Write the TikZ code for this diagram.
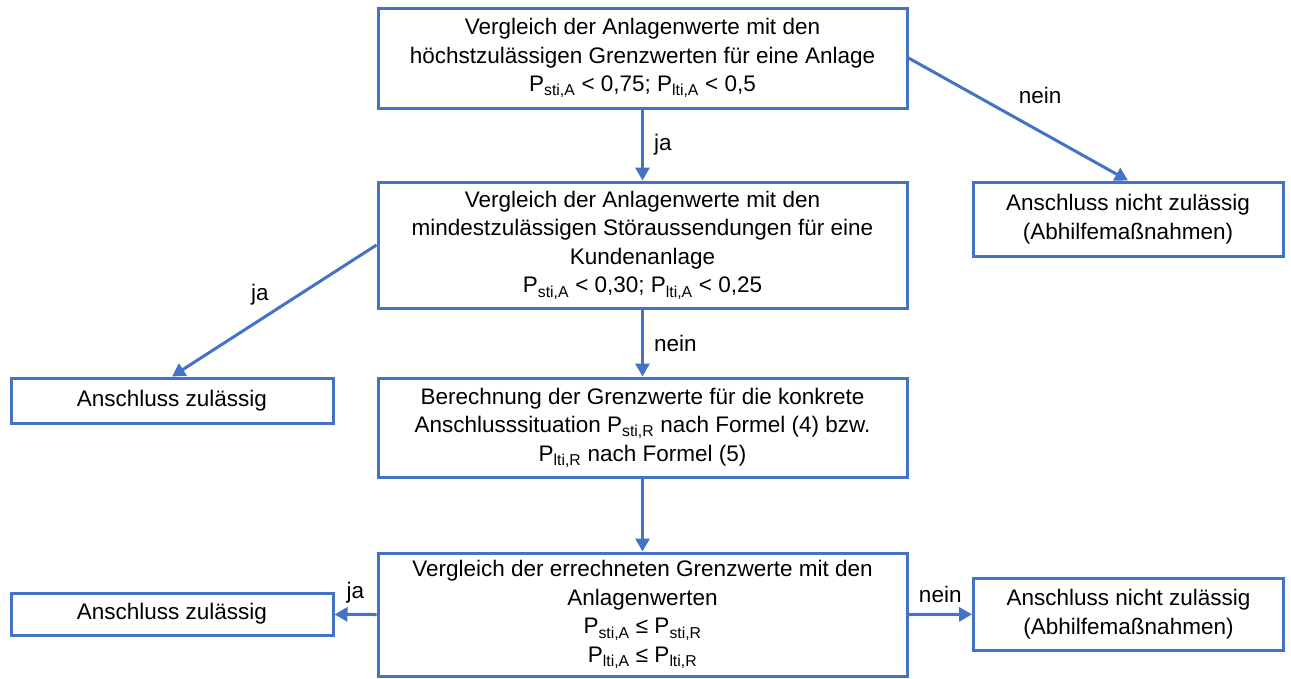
\documentclass[tikz,border=0pt]{standalone}
\usepackage{fontspec}
\setmainfont{Liberation Sans}
\usetikzlibrary{positioning,arrows.meta}
\definecolor{flowblue}{RGB}{68,114,196}

\begin{document}
\begin{tikzpicture}[x=1pt, y=-1pt,
    every node/.style={font=\fontsize{22.5}{28.5}\selectfont},
    block/.style={draw=flowblue, line width=3pt, fill=white, align=center, inner sep=0pt, minimum width=529pt},
    sideblock/.style={block, minimum width=310pt},
    leftblock/.style={block, minimum width=322pt},
    flow/.style={draw=flowblue, line width=3pt, -{Triangle[length=13pt,width=14pt]}},
    answer/.style={inner sep=4pt}
]
\useasboundingbox (0,0) rectangle (1291,678);

% main column
\node[block, minimum height=100pt] (cmpmax) at (642.5,58) {Vergleich der Anlagenwerte mit den\\ höchstzulässigen Grenzwerten für eine Anlage\\ P\textsubscript{sti,A} < 0,75; P\textsubscript{lti,A} < 0,5};
\node[block, minimum height=126pt] (cmpmin) at (642.5,245) {Vergleich der Anlagenwerte mit den\\ mindestzulässigen Störaussendungen für eine\\ Kundenanlage\\ P\textsubscript{sti,A} < 0,30; P\textsubscript{lti,A} < 0,25};
\node[block, minimum height=99pt] (calc) at (642.5,427.5) {Berechnung der Grenzwerte für die konkrete\\ Anschlusssituation P\textsubscript{sti,R} nach Formel (4) bzw.\\ P\textsubscript{lti,R} nach Formel (5)};
\node[block, minimum height=123pt] (cmpcalc) at (642.5,614.5) {Vergleich der errechneten Grenzwerte mit den\\ Anlagenwerten\\ P\textsubscript{sti,A} ≤ P\textsubscript{sti,R}\\ P\textsubscript{lti,A} ≤ P\textsubscript{lti,R}};

% outcomes
\node[sideblock, minimum height=74pt] (reject1) at (1128,219) {Anschluss nicht zulässig\\ (Abhilfemaßnahmen)};
\node[sideblock, minimum height=72pt] (reject2) at (1128.5,614) {Anschluss nicht zulässig\\ (Abhilfemaßnahmen)};
\node[leftblock, minimum height=45pt] (accept1) at (172,400.5) {Anschluss zulässig};
\node[leftblock, minimum height=42pt] (accept2) at (172,614) {Anschluss zulässig};

% connectors
\draw[flow] (cmpmax) -- node[answer, right=6pt] {ja} (cmpmin);
\draw[flow] (cmpmax.east) -- node[answer, above right=4pt and 6pt, pos=0.45] {nein} (reject1.north);
\draw[flow] (cmpmin.west) -- node[answer, above left, pos=0.5] {ja} (accept1.north);
\draw[flow] (cmpmin) -- node[answer, right=6pt] {nein} (calc);
\draw[flow] (calc) -- (cmpcalc);
\draw[flow] (cmpcalc.west) -- node[answer, above=6pt] {ja} (accept2);
\draw[flow] (cmpcalc.east) -- node[answer, above=6pt] {nein} (reject2);
\end{tikzpicture}
\end{document}
